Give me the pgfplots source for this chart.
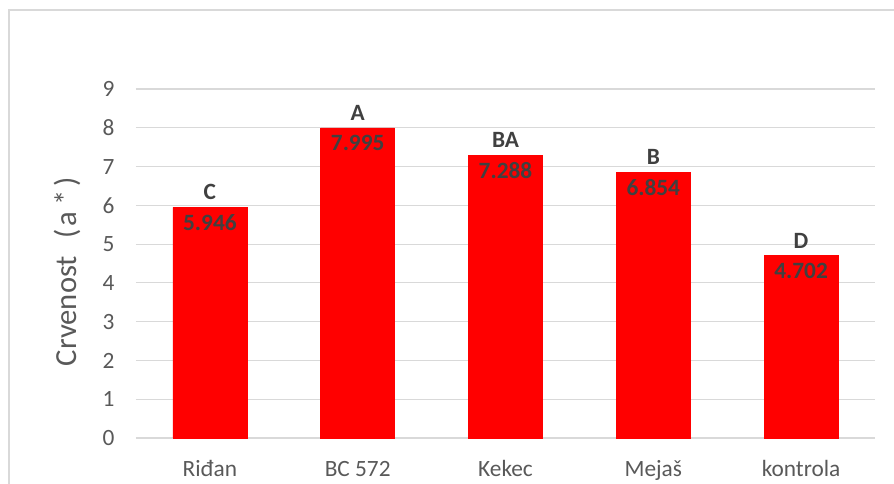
\documentclass[border=0pt]{standalone}
\usepackage{pgfplots}
\pgfplotsset{compat=1.18}
\usepackage{fontspec}
\setmainfont{Carlito}
\definecolor{gridc}{HTML}{D9D9D9}
\definecolor{tickc}{HTML}{595959}
\definecolor{labc}{HTML}{404040}
\definecolor{barred}{HTML}{FF0000}
\begin{document}
\begin{tikzpicture}[x=1pt,y=1pt]
\useasboundingbox (0,0) rectangle (670.5,363);
\draw[gridc, line width=1.3pt] (6.5,0) -- (6.5,355.5) -- (670.5,355.5);
\begin{axis}[
  at={(102pt,34.5pt)}, anchor=south west,
  scale only axis, width=554.25pt, height=261.75pt,
  xmin=-0.5, xmax=4.5, ymin=0, ymax=9,
  xtick={0,1,2,3,4},
  xticklabels={Riđan, BC 572, Kekec, Mejaš, kontrola},
  ytick={0,1,...,9},
  axis line style={draw=none},
  major tick length=0pt,
  ymajorgrids, major grid style={gridc, line width=0.9pt},
  /pgf/number format/assume math mode=true,
  tick label style={font=\fontsize{17.5}{20}\selectfont, text=tickc},
  yticklabel style={anchor=east, inner sep=0pt, xshift=-16pt},
  xticklabel style={anchor=base, inner sep=0pt, yshift=-29pt},
  ylabel={Crvenost\hspace{0.55em}(\hspace{0.12em}a\hspace{0.18em}*\hspace{0.12em})},
  ylabel style={at={(axis description cs:-0.0934,0.476)}, anchor=center, font=\fontsize{23}{26}\selectfont, text=tickc},
  ybar, bar width=55.5pt, bar shift=0pt,
  clip=false,
]
\addplot[fill=barred, draw=barred, nodes near coords, point meta=explicit symbolic,
  every node near coord/.append style={anchor=center, yshift=-11.25pt, inner sep=0pt, text=labc, font=\fontsize{17.5}{20}\selectfont\bfseries}]
  table[meta=v] {
x y v
0 5.946 5.946
1 7.995 7.995
2 7.288 7.288
3 6.854 6.854
4 4.702 4.702
};
\addplot[draw=none, fill=none, nodes near coords, point meta=explicit symbolic,
  every node near coord/.append style={anchor=center, yshift=11.25pt, inner sep=0pt, text=labc, font=\fontsize{17.5}{20}\selectfont\bfseries}]
  table[meta=l] {
x y l
0 5.946 C
1 7.995 A
2 7.288 BA
3 6.854 B
4 4.702 D
};
\end{axis}
\end{tikzpicture}
\end{document}
